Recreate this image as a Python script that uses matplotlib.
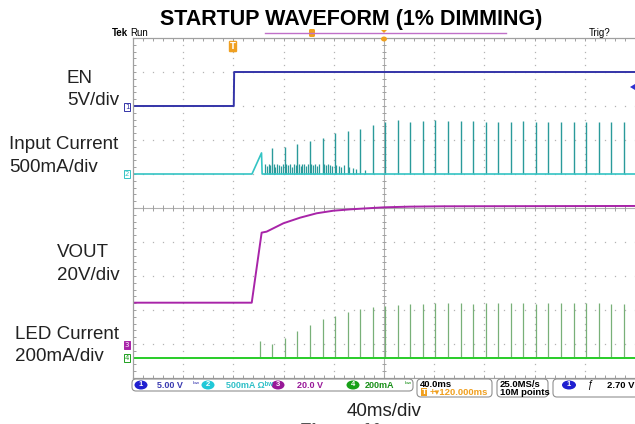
import numpy as np
import matplotlib.pyplot as plt
from matplotlib.patches import FancyBboxPatch, Ellipse, Polygon
from matplotlib.lines import Line2D
from matplotlib.transforms import Affine2D

W, H = 635, 424
SANS = "Liberation Sans"

# channel settings: units per division, offset in divisions
en_scale, en_offset = 5.0, 3.0
iin_scale, iin_offset = 500.0, 1.0
vout_scale, vout_offset = 20.0, -4.0
led_scale, led_offset = 200.0, -4.4

# EN (V)
en_t = [0, 80.3, 80.6, 400]
en_v = [0, 0, 5.0, 5.0]

# VOUT (V)
vout_t = [0, 94.6, 102.5, 106.5, 119.8, 133.1, 146.4, 159.6, 172.9, 186.2, 200, 220.7, 247, 400]
vout_v = [24.3, 24.3, 65.5, 66.1, 71.0, 74.3, 76.9, 78.4, 79.2, 79.8, 80.4, 80.8, 81.0, 81.2]

# input current baseline with soft-start ramp (mA)
iin_t = [0, 94.8, 102.4, 102.9, 400]
iin_i = [0, 0, 310, 0, 0]

# input current PWM pulses (mA)
iin_pulse_t = [111, 121, 131, 141, 151, 161, 171, 181, 191, 201, 211, 221, 231, 241, 251,
               261, 271, 281, 291, 301, 311, 321, 331, 341, 351, 361, 371, 381, 391]
iin_pulse_i = [378, 401, 437, 485, 534, 599, 637, 662, 721, 769, 799, 769, 779, 794, 784,
               775, 779, 769, 769, 769, 779, 769, 760, 769, 760, 760, 760, 769, 760]

# small switching bursts during start-up (mA)
iin_burst_t = [105, 106.5, 108, 109.5, 112, 113.5, 115, 116.5, 118, 119.5, 122, 123.5, 125, 126.5,
               128, 129.5, 132, 133.5, 135, 136.5, 138, 139.5, 142, 143.5, 145, 146.5, 148, 152,
               153.5, 155, 157, 158.5, 162, 164, 166, 168, 172, 175, 178, 185]
iin_burst_i = [140, 120, 150, 130, 145, 110, 150, 135, 120, 150, 140, 125, 150, 110,
               145, 130, 150, 120, 140, 145, 115, 150, 140, 130, 150, 120, 145, 150,
               125, 140, 135, 120, 130, 120, 110, 125, 100, 90, 80, 60]

# LED current PWM pulses (mA)
led_pulse_t = [101, 111, 121, 131, 141, 151, 161, 171, 181, 191, 201, 211, 221, 231, 241,
               251, 261, 271, 281, 291, 301, 311, 321, 331, 341, 351, 361, 371, 381, 391]
led_pulse_i = [98, 82, 116, 157, 194, 225, 247, 269, 288, 298, 304, 308, 318, 318, 320,
               324, 320, 316, 324, 320, 324, 320, 316, 324, 320, 320, 320, 320, 316, 316]

EN_C = "#3434a8"
IIN_C = "#34c4c4"
IIN_PULSE_C = "#2a9a9a"
VOUT_C = "#a824a8"
LED_C = "#28cc28"
LED_PULSE_C = "#78b078"
GRID_C = "#b4b4b4"
ORANGE = "#f0a020"


def div(vals, scale, offset):
    return [v / scale + offset for v in vals]


fig = plt.figure(figsize=(W / 100, H / 100), dpi=100)
px = Affine2D().scale(1, -1).translate(0, H)  # image pixel coords

ax = fig.add_axes([133 / W, 1 - 378 / H, 502 / W, 340 / H])
ax.set_xlim(0, 400)
ax.set_ylim(-5, 5)
ax.set_xticks([])
ax.set_yticks([])
for s in ["left", "top", "bottom"]:
    ax.spines[s].set_color("#a0a0a0")
    ax.spines[s].set_linewidth(0.9)
ax.spines["right"].set_visible(False)

# dotted graticule
ys = np.arange(-5, 5.01, 0.2)
xs = np.arange(0, 400.1, 8)
for gx in range(40, 400, 40):
    if gx != 200:
        ax.plot([gx] * len(ys), ys, ls="none", marker="s", ms=0.9, mew=0, color=GRID_C)
for gy in range(-4, 5):
    if gy != 0:
        ax.plot(xs, [gy] * len(xs), ls="none", marker="s", ms=0.9, mew=0, color=GRID_C)
ax.axhline(0, color="#b0b0b0", lw=0.8)
ax.axvline(200, color="#b0b0b0", lw=0.8)
ax.vlines(xs, -0.09, 0.09, color="#a0a0a0", lw=0.7)
ax.hlines(ys, 198.4, 201.6, color="#a0a0a0", lw=0.7)
ax.vlines(xs, -5, -4.9, color="#a0a0a0", lw=0.7)
ax.vlines(xs, 4.9, 5, color="#a0a0a0", lw=0.7)
ax.hlines(ys, 0, 2.4, color="#a0a0a0", lw=0.7)

# traces
ax.plot(en_t, div(en_v, en_scale, en_offset), color=EN_C, lw=1.4)
ax.vlines(iin_burst_t, iin_offset, div(iin_burst_i, iin_scale, iin_offset), color=IIN_PULSE_C, lw=0.9)
ax.vlines(iin_pulse_t, iin_offset, div(iin_pulse_i, iin_scale, iin_offset), color=IIN_PULSE_C, lw=1.0)
ax.plot(iin_t, div(iin_i, iin_scale, iin_offset), color=IIN_C, lw=1.2)
ax.plot(vout_t, div(vout_v, vout_scale, vout_offset), color=VOUT_C, lw=1.4)
ax.vlines(led_pulse_t, led_offset, div(led_pulse_i, led_scale, led_offset), color=LED_PULSE_C, lw=0.9)
ax.axhline(led_offset, color=LED_C, lw=1.4)

# title and channel labels
fig.text(351, 25, "STARTUP WAVEFORM (1% DIMMING)", transform=px, ha="center", va="baseline",
         fontsize=15.5, weight="bold", family=SANS)
labels = [("EN", 67, 83), ("5V/div", 67, 105), ("Input Current", 9, 149), ("500mA/div", 9, 172),
          ("VOUT", 57, 257), ("20V/div", 57, 280), ("LED Current", 15, 339), ("200mA/div", 15, 361)]
for txt, lx, ly in labels:
    fig.text(lx, ly, txt, transform=px, ha="left", va="baseline", fontsize=13.5, family=SANS,
             color="#222222")
fig.text(384, 416, "40ms/div", transform=px, ha="center", va="baseline", fontsize=13.5,
         family=SANS, color="#222222")
fig.text(300, 436, "Figure 11.", transform=px, ha="left", va="baseline", fontsize=13.5,
         family=SANS, weight="bold", color="#555555")

# scope header
fig.text(112, 36, "Tek", transform=px, fontsize=7, weight="bold", family=SANS, va="baseline")
fig.text(130, 36, "Run", transform=px, fontsize=7, family=SANS, va="baseline")
fig.text(589, 36, "Trig?", transform=px, fontsize=7, family=SANS, va="baseline")
fig.add_artist(Line2D([265, 506], [33, 33], transform=px, color="#c070c8", lw=1))
fig.add_artist(FancyBboxPatch((309, 29), 6, 8, boxstyle="round,pad=0,rounding_size=1.5",
                              transform=px, fc=ORANGE, ec="none"))
fig.text(233, 49, "T", transform=px, ha="center", va="baseline", fontsize=6, color="white",
         weight="bold", bbox=dict(boxstyle="round,pad=0.15", fc=ORANGE, ec="none"))
fig.add_artist(Polygon([[381, 30], [387, 30], [384, 33]], closed=True, transform=px, fc=ORANGE, ec="none"))
fig.add_artist(Ellipse((384, 39), 6, 5, transform=px, fc=ORANGE, ec="none"))
fig.add_artist(Polygon([[635, 84], [630, 87], [635, 90]], closed=True, transform=px, fc="#3030d0", ec="none"))

# channel markers on the left edge
for num, my, col, filled in [("1", 107, EN_C, False), ("2", 174, IIN_C, False),
                             ("3", 345, VOUT_C, True), ("4", 358, "#20a020", False)]:
    fig.text(127, my, num, transform=px, ha="center", va="center", fontsize=5,
             color="white" if filled else col,
             bbox=dict(boxstyle="square,pad=0.12", fc=col if filled else "white", ec=col, lw=0.7))

# status bar
for x0, y0, w, h in [(132, 379, 281, 12), (417, 379, 75, 18), (497, 379, 51, 18), (553, 379, 90, 18)]:
    fig.add_artist(FancyBboxPatch((x0, y0), w, h, boxstyle="round,pad=0,rounding_size=4",
                                  transform=px, fc="white", ec="#909090", lw=0.8))
chans = [("1", 141, "#2020d0", "5.00 V", 157, "#3a3ab0"),
         ("2", 208, "#20c8d8", "500mA Ωᵇʷ", 226, "#30c0c8"),
         ("3", 278, "#981898", "20.0 V", 297, "#981898"),
         ("4", 353, "#18a018", "200mA", 365, "#189018")]
for num, cx, col, txt, tx, tcol in chans:
    fig.add_artist(Ellipse((cx, 385), 13, 9, transform=px, fc=col, ec="none"))
    fig.text(cx, 385, num, transform=px, ha="center", va="center", fontsize=5.5,
             color="white", weight="bold", family=SANS)
    fig.text(tx, 385, txt, transform=px, ha="left", va="center", fontsize=6.5,
             color=tcol, weight="bold", family=[SANS, "DejaVu Sans"])
for bx, bcol in [(196, "#3a3ab0"), (408, "#189018")]:
    fig.text(bx, 385, "ᵇʷ", transform=px, ha="center", va="center", fontsize=5.5,
             color=bcol, family=["DejaVu Sans"])
fig.text(420, 387, "40.0ms", transform=px, ha="left", va="baseline", fontsize=6.8, weight="bold", family=SANS)
fig.text(430, 395, "+▾120.000ms", transform=px, ha="left", va="baseline", fontsize=6.8,
         color=ORANGE, weight="bold", family=[SANS, "DejaVu Sans"])
fig.text(424, 394, "T", transform=px, ha="center", va="baseline", fontsize=5, color="white",
         weight="bold", bbox=dict(boxstyle="square,pad=0.1", fc=ORANGE, ec="none"))
fig.text(500, 387, "25.0MS/s", transform=px, ha="left", va="baseline", fontsize=6.8, weight="bold", family=SANS)
fig.text(500, 395, "10M points", transform=px, ha="left", va="baseline", fontsize=6.8, weight="bold", family=SANS)
fig.add_artist(Ellipse((569, 385), 14, 9, transform=px, fc="#2020d0", ec="none"))
fig.text(569, 385, "1", transform=px, ha="center", va="center", fontsize=5.5, color="white",
         weight="bold", family=SANS)
fig.text(590, 385, "ƒ", transform=px, ha="center", va="center", fontsize=7, family=SANS)
fig.text(607, 385, "2.70 V", transform=px, ha="left", va="center", fontsize=6.8, weight="bold", family=SANS)

fig.savefig("out.png", dpi=100)
